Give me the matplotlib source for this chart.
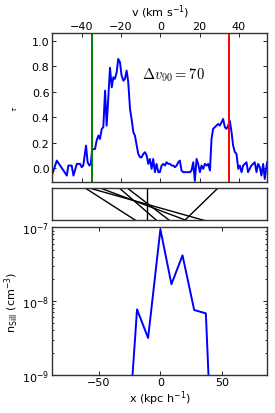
import matplotlib
matplotlib.use("Agg")
import matplotlib.pyplot as plt
from matplotlib.ticker import LogLocator, NullFormatter

# optical depth spectrum
vel = [-54.9, -52.7, -51.0, -49.3, -47.6, -46.8, -45.1, -44.2, -42.5, -40.8,
       -40.0, -39.2, -37.8, -37.0, -36.1, -35.4, -34.7, -33.2, -32.4, -31.5,
       -30.7, -29.8, -29.0, -28.1, -27.3, -26.4, -25.6, -24.7, -23.9, -23.1,
       -22.2, -21.4, -20.5, -19.7, -18.8, -18.0, -17.1, -16.3, -15.4, -14.6,
       -13.7, -12.9, -12.0, -11.2, -10.3, -9.5, -8.6, -7.8, -6.9, -6.1,
       -5.3, -4.4, -3.6, -2.7, -1.9, -1.0, -0.2, 0.7, 1.5, 2.4,
       3.2, 4.1, 4.9, 5.8, 6.6, 7.5, 8.3, 9.2, 10.0, 10.8,
       11.7, 13.4, 15.1, 15.9, 16.8, 17.6, 18.5, 19.3, 20.2, 21.0,
       21.9, 22.7, 23.6, 24.4, 25.3, 26.1, 26.9, 28.6, 29.5, 30.3,
       31.2, 32.0, 32.9, 33.7, 34.6, 35.4, 36.3, 37.1, 38.0, 38.8,
       39.7, 40.5, 41.4, 42.2, 43.9, 44.7, 46.4, 48.1, 49.0, 49.8,
       50.7, 51.5, 52.4, 53.2, 54.4]
tau = [-0.045, 0.060, 0.021, -0.018, -0.058, 0.021, 0.021, -0.058, 0.034, 0.034,
       0.008, 0.021, 0.178, 0.047, 0.021, 0.034, 0.147, 0.152, 0.217, 0.257,
       0.230, 0.309, 0.322, 0.610, 0.335, 0.571, 0.790, 0.636, 0.715, 0.702,
       0.754, 0.859, 0.832, 0.728, 0.688, 0.702, 0.767, 0.676, 0.466, 0.387,
       0.283, 0.257, 0.178, 0.113, 0.086, 0.086, 0.113, 0.126, 0.099, 0.034,
       0.073, -0.005, 0.073, -0.031, 0.034, -0.031, -0.031, 0.021, 0.034, 0.021,
       0.047, 0.034, 0.034, 0.021, 0.021, 0.008, 0.021, 0.047, 0.060, -0.018,
       -0.031, -0.031, -0.031, -0.018, 0.047, -0.100, 0.073, 0.034, -0.031, 0.021,
       -0.005, 0.034, 0.021, 0.034, -0.018, 0.230, 0.309, 0.335, 0.348, 0.335,
       0.361, 0.387, 0.322, 0.309, 0.335, 0.374, 0.283, 0.178, 0.126, 0.113,
       -0.005, 0.021, -0.031, 0.021, 0.047, -0.031, 0.021, 0.047, -0.031, 0.034,
       0.008, -0.058, 0.034, -0.084, 0.047]
v_lo, v_hi = -35, 35
dv90 = 70

# mapping of cells: velocity-space position (top) -> real-space position (bottom)
map_top = [-60.6, -56.5, -47.9, -33.0, -26.5, -10.9, 46.5]
map_bot = [-20.0, 35.9, 21.3, -3.0, 7.5, -10.9, 19.7]

# SiII density along the sightline
pos = [-28.0, -19.0, -10.0, 0.0, 9.0, 18.0, 27.5, 37.0, 46.0]
dens = [5e-11, 7.7e-9, 3.15e-9, 9.4e-8, 1.69e-8, 4.17e-8, 7.55e-9, 6.8e-9, 2e-12]

plt.rcParams["font.size"] = 8
plt.rcParams["axes.linewidth"] = 1.0
plt.rcParams["axes.edgecolor"] = "#333333"
plt.rcParams["xtick.direction"] = "in"
plt.rcParams["ytick.direction"] = "in"

fig = plt.figure(figsize=(2.75, 4.14), dpi=100)
ax1 = fig.add_axes([0.190, 0.559, 0.782, 0.358])
ax2 = fig.add_axes([0.190, 0.465, 0.782, 0.0773])
ax3 = fig.add_axes([0.190, 0.0925, 0.782, 0.356])

ax1.plot(vel, tau, color="blue", lw=1.4)
ax1.axvline(v_lo, color="green", lw=1.4)
ax1.axvline(v_hi, color="red", lw=1.4)
ax1.set_xlim(-55, 54.5)
ax1.set_ylim(-0.105, 1.06)
ax1.set_yticks([0.0, 0.2, 0.4, 0.6, 0.8, 1.0])
ax1.set_xticks([-40, -20, 0, 20, 40])
ax1.tick_params(top=True, right=True, labeltop=True, labelbottom=False,
                length=3, width=0.6, pad=2)
ax1.xaxis.set_label_position("top")
ax1.set_xlabel(r"v (km s$^{-1}$)", labelpad=4)
ax1.set_ylabel(r"$\tau$", fontsize=5, labelpad=9)
ax1.text(-9.5, 0.74, r"$\Delta v_{90} = %d$" % dv90, fontsize=10.5,
         va="center", math_fontfamily="cm")

for xt, xb in zip(map_top, map_bot):
    ax2.plot([xt, xb], [1, 0], color="black", lw=1.0)
ax2.set_xlim(-88, 87)
ax2.set_ylim(0, 1)
ax2.set_xticks([])
ax2.set_yticks([])

ax3.plot(pos, dens, color="blue", lw=1.4)
ax3.set_yscale("log")
ax3.set_xlim(-88, 87)
ax3.set_ylim(1e-9, 1e-7)
ax3.set_xticks([-50, 0, 50])
ax3.yaxis.set_minor_locator(LogLocator(base=10, subs=range(2, 10)))
ax3.yaxis.set_minor_formatter(NullFormatter())
ax3.tick_params(which="both", top=True, right=True, width=0.6, pad=2)
ax3.tick_params(which="major", length=3)
ax3.tick_params(which="minor", length=1.5)
ax3.set_xlabel(r"x (kpc h$^{-1}$)", labelpad=1)
ax3.set_ylabel(r"n$_{\rm SiII}$ (cm$^{-3}$)", labelpad=1)

fig.savefig("out.png", dpi=100)
